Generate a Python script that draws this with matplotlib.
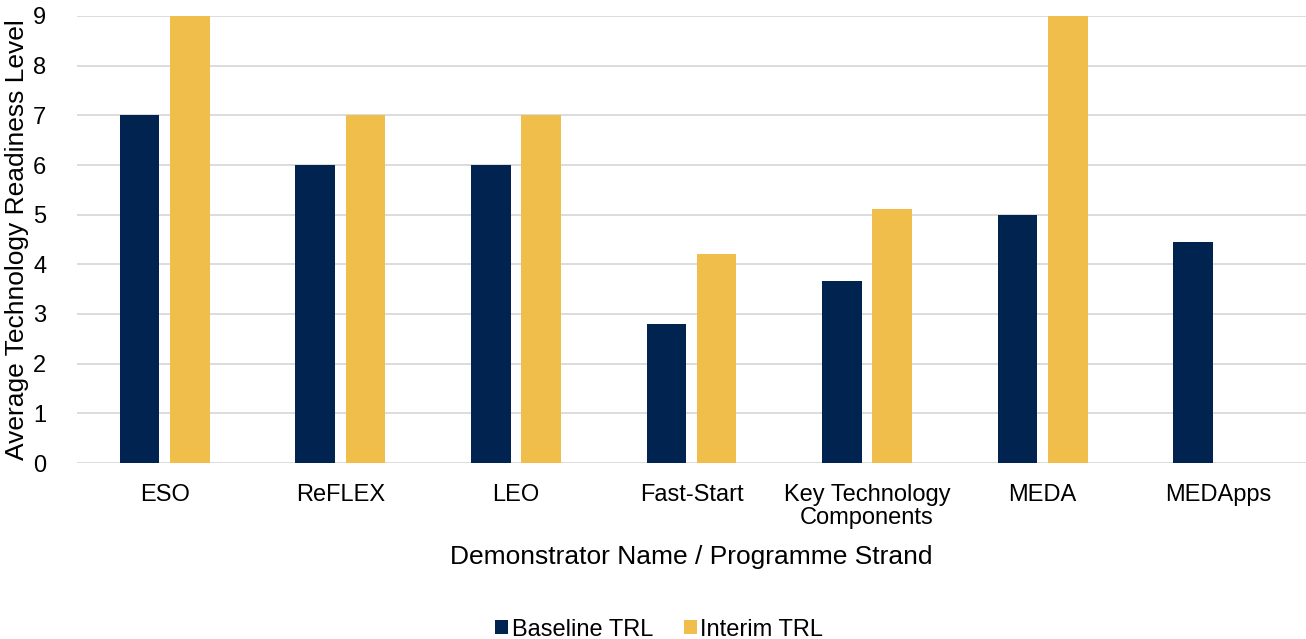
import numpy as np
import matplotlib.pyplot as plt

plt.rcParams['font.family'] = ['Liberation Sans', 'DejaVu Sans']

categories = ['ESO', 'ReFLEX', 'LEO', 'Fast-Start', 'Key Technology\nComponents', 'MEDA', 'MEDApps']
baseline_trl = [7, 6, 6, 2.8, 3.66, 5, 4.44]
interim_trl = [9, 7, 7, 4.2, 5.11, 9, 0]

navy = '#00234f'
gold = '#f0be4b'

fig = plt.figure(figsize=(13.06, 6.39), dpi=100)
ax = fig.add_axes([77 / 1306, 1 - 463 / 639, 1229 / 1306, 447 / 639])

x = np.arange(len(categories))
w = 0.225
ax.bar(x - 0.143, baseline_trl, w, color=navy, label='Baseline TRL', zorder=3)
ax.bar(x + 0.143, interim_trl, w, color=gold, label='Interim TRL', zorder=3)

ax.set_xlim(-0.5, len(categories) - 0.5)
ax.set_ylim(0, 9)
ax.set_yticks(range(10))
ax.set_xticks(x)
ax.set_xticklabels(categories, linespacing=1.05)
ax.yaxis.grid(True, color='#d9d9d9', linewidth=1.3, zorder=0)
for s in ax.spines.values():
    s.set_visible(False)
ax.tick_params(axis='both', length=0, labelsize=17, colors='black')
ax.tick_params(axis='x', pad=15)
ax.tick_params(axis='y', pad=22)

ax.set_xlabel('Demonstrator Name / Programme Strand', fontsize=19, labelpad=12)
ax.set_ylabel('Average Technology Readiness Level', fontsize=19, labelpad=3)

# legend sits under the whole figure, a little left of the axes centre
ax.legend(loc='lower center', bbox_to_anchor=(0.4736, -0.445), ncol=2, frameon=False,
          fontsize=17, handlelength=0.55, handleheight=0.55, handletextpad=0.15,
          columnspacing=1.3)

fig.savefig('out.png', dpi=100)
